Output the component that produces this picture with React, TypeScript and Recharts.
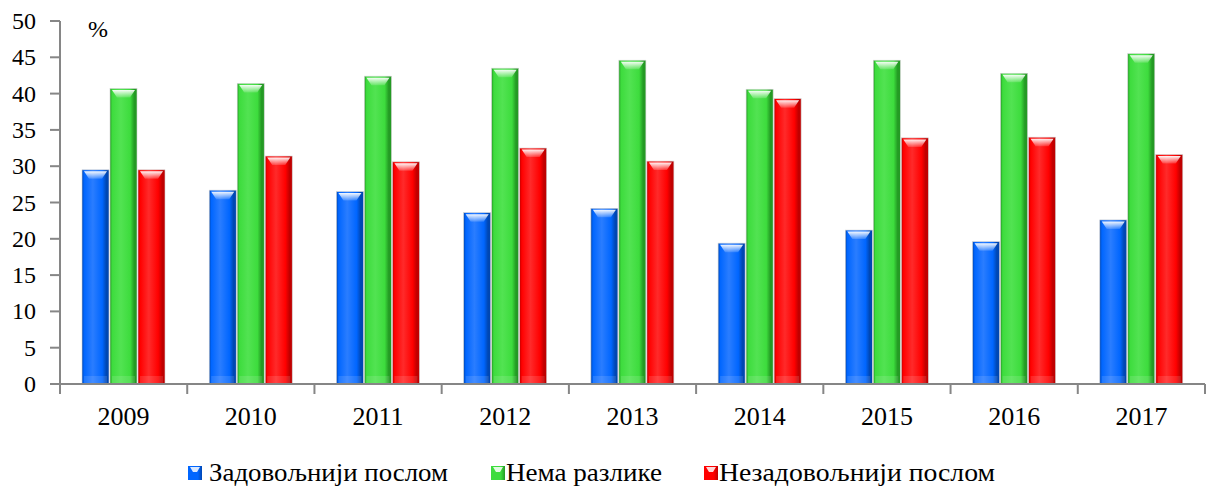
import { BarChart, Bar, XAxis, YAxis, Legend } from 'recharts';

const years = ['2009', '2010', '2011', '2012', '2013', '2014', '2015', '2016', '2017'];
const satisfied = [29.5, 26.7, 26.5, 23.6, 24.2, 19.4, 21.2, 19.6, 22.6];
const noDifference = [40.7, 41.4, 42.4, 43.5, 44.6, 40.6, 44.6, 42.8, 45.5];
const dissatisfied = [29.5, 31.4, 30.6, 32.5, 30.7, 39.3, 33.9, 34.0, 31.6];
const yTicks = [0, 5, 10, 15, 20, 25, 30, 35, 40, 45, 50];

const seriesNames = ['Задовољнији послом', 'Нема разлике', 'Незадовољнији послом'];

const data = years.map((year, i) => ({
  year,
  satisfied: satisfied[i],
  noDifference: noDifference[i],
  dissatisfied: dissatisfied[i],
}));

const palette: Record<string, { base: string; light: string; dark: string }> = {
  blue: { base: '#0066ff', light: '#2a7dff', dark: '#0047b3' },
  green: { base: '#3ddc3d', light: '#52e352', dark: '#249a24' },
  red: { base: '#ff0000', light: '#ff2a2a', dark: '#c00000' },
};

const FONT = '"Liberation Serif", "Times New Roman", Times, serif';

function GlossyBar(props: any, key: string) {
  const { x, y, width, height } = props;
  if (!height || height <= 0) return <g />;
  const cap = Math.min(9, height);
  return (
    <g>
      <rect x={x} y={y} width={width} height={height} fill={`url(#body-${key})`} stroke="#d0d0d0" strokeWidth={0.6} />
      <path
        d={`M${x + 2},${y + 1.5} L${x + width - 2},${y + 1.5} L${x + width - 7},${y + cap} L${x + 7},${y + cap} Z`}
        fill={`url(#cap-${key})`}
      />
      <rect x={x + 2} y={y + height - 8} width={width - 4} height={7} fill="#ffffff" opacity={0.12} />
    </g>
  );
}

function YearTick(props: any) {
  const { x, y, payload, index, width } = props;
  const bw = width / years.length;
  const axisY = y - 10 - 12;
  return (
    <g>
      <line x1={x - bw / 2} y1={axisY} x2={x - bw / 2} y2={axisY + 10} stroke="#868686" strokeWidth={2} />
      {index === years.length - 1 && (
        <line x1={x + bw / 2} y1={axisY} x2={x + bw / 2} y2={axisY + 10} stroke="#868686" strokeWidth={2} />
      )}
      <text x={x} y={y} dy={19} textAnchor="middle" style={{ fontFamily: FONT }} fontSize={26} fill="#000">
        {payload.value}
      </text>
    </g>
  );
}

function ValueTick(props: any) {
  const { x, y, payload } = props;
  return (
    <text x={x} y={y} dy={8} textAnchor="end" style={{ fontFamily: FONT }} fontSize={24} fill="#000">
      {payload.value}
    </text>
  );
}

function PercentLabel(props: any) {
  const { viewBox } = props;
  return (
    <text x={viewBox.x + viewBox.width + 28} y={viewBox.y + 16} style={{ fontFamily: FONT }} fontSize={24} fill="#000">
      %
    </text>
  );
}

const legendColors = ['blue', 'green', 'red'];
const legendMarkerX = [188, 491, 704];
const legendTextX = [209, 506, 719];
const legendTextW = [239, 156, 276];

function CustomLegend() {
  return (
    <svg width={1206} height={49} style={{ display: 'block' }}>
      <defs>
        {legendColors.map((k) => (
          <linearGradient key={k} id={`lg-${k}`} x1="0" y1="0" x2="1" y2="0">
            <stop offset="0%" stopColor={palette[k].base} />
            <stop offset="70%" stopColor={palette[k].base} />
            <stop offset="100%" stopColor={palette[k].dark} />
          </linearGradient>
        ))}
      </defs>
      {seriesNames.map((name, i) => (
        <g key={name}>
          <rect x={legendMarkerX[i]} y={26} width={14} height={14} fill={`url(#lg-${legendColors[i]})`} />
          <path
            d={`M${legendMarkerX[i] + 2},27 L${legendMarkerX[i] + 12},27 L${legendMarkerX[i] + 9},32 L${legendMarkerX[i] + 5},32 Z`}
            fill="#ffffff"
            opacity={0.85}
          />
          <text
            x={legendTextX[i]}
            y={41}
            style={{ fontFamily: FONT }}
            fontSize={25}
            fill="#000"
            textLength={legendTextW[i]}
            lengthAdjust="spacingAndGlyphs"
          >
            {name}
          </text>
        </g>
      ))}
    </svg>
  );
}

export default function App() {
  return (
    <div style={{ position: 'absolute', left: 0, top: 0, background: '#fff' }}>
      <BarChart
        width={1206}
        height={489}
        data={data}
        margin={{ top: 21, right: 1, left: 0, bottom: 0 }}
        barSize={27}
        barGap={1}
      >
        <defs>
          {Object.keys(palette).map((k) => (
            <linearGradient key={`b${k}`} id={`body-${k}`} x1="0" y1="0" x2="1" y2="0">
              <stop offset="0%" stopColor={palette[k].dark} />
              <stop offset="8%" stopColor={palette[k].base} />
              <stop offset="40%" stopColor={palette[k].light} />
              <stop offset="75%" stopColor={palette[k].base} />
              <stop offset="90%" stopColor={palette[k].dark} />
              <stop offset="100%" stopColor={palette[k].dark} />
            </linearGradient>
          ))}
          {Object.keys(palette).map((k) => (
            <linearGradient key={`c${k}`} id={`cap-${k}`} x1="0" y1="0" x2="0" y2="1">
              <stop offset="0%" stopColor="#ffffff" stopOpacity={0.95} />
              <stop offset="100%" stopColor="#ffffff" stopOpacity={0.15} />
            </linearGradient>
          ))}
        </defs>
        <XAxis
          dataKey="year"
          height={56}
          axisLine={{ stroke: '#868686', strokeWidth: 2 }}
          tickLine={{ stroke: 'none' }}
          tickSize={10}
          tickMargin={12}
          tick={<YearTick />}
          interval={0}
        />
        <YAxis
          width={60}
          domain={[0, 50]}
          ticks={yTicks}
          interval={0}
          axisLine={{ stroke: '#868686', strokeWidth: 2 }}
          tickLine={{ stroke: '#868686', strokeWidth: 2 }}
          tickSize={10}
          tickMargin={14}
          tick={<ValueTick />}
          label={<PercentLabel />}
        />
        <Legend verticalAlign="bottom" content={<CustomLegend />} wrapperStyle={{ height: 49 }} />
        <Bar dataKey="satisfied" name={seriesNames[0]} fill="#0066ff" isAnimationActive={false} shape={(p: any) => GlossyBar(p, 'blue')} />
        <Bar dataKey="noDifference" name={seriesNames[1]} fill="#3ddc3d" isAnimationActive={false} shape={(p: any) => GlossyBar(p, 'green')} />
        <Bar dataKey="dissatisfied" name={seriesNames[2]} fill="#ff0000" isAnimationActive={false} shape={(p: any) => GlossyBar(p, 'red')} />
      </BarChart>
    </div>
  );
}
